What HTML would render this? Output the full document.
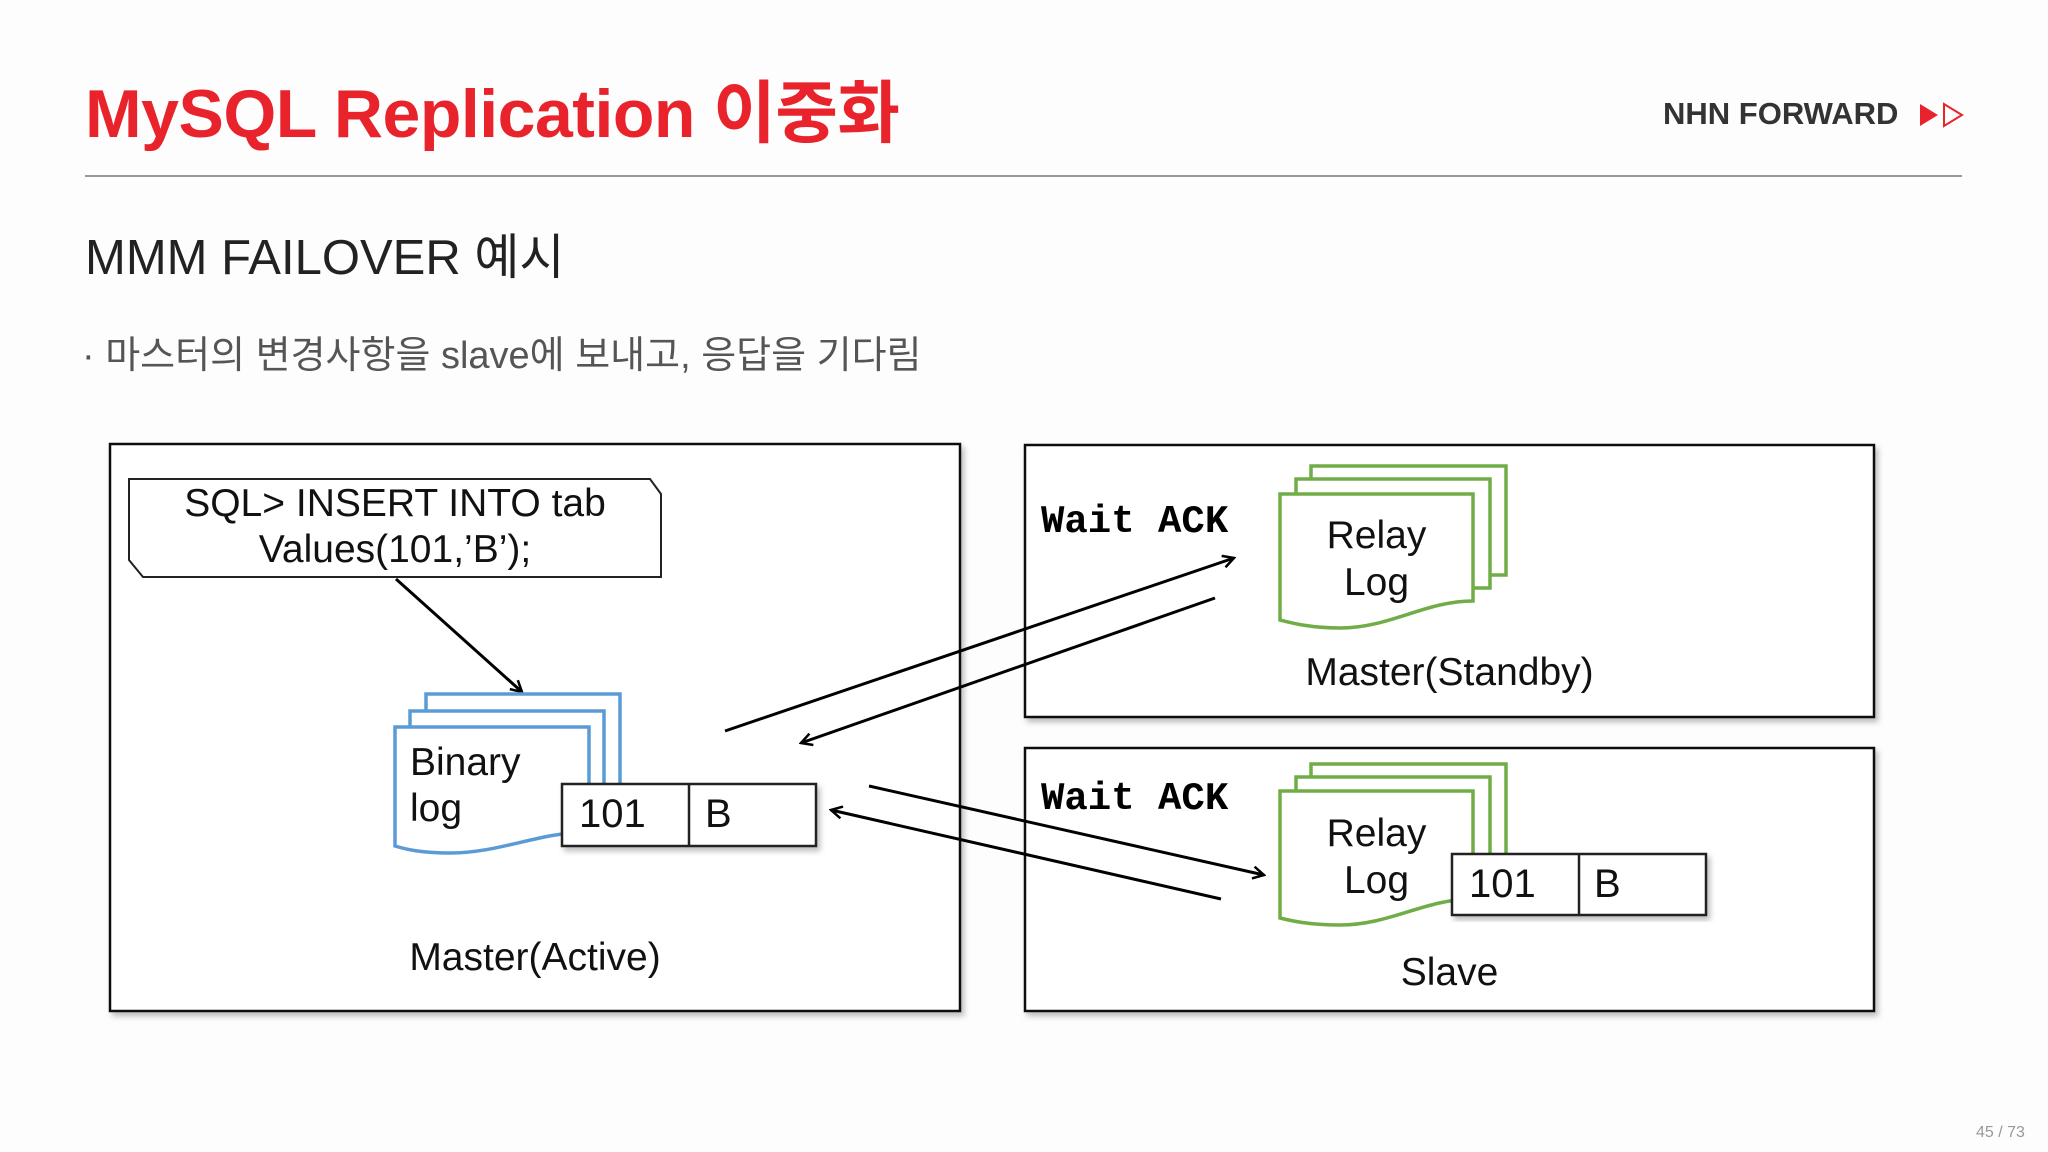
<!DOCTYPE html>
<html><head><meta charset="utf-8"><style>
html,body{margin:0;padding:0;background:#fdfdfd;}
body{width:2048px;height:1152px;overflow:hidden;position:relative;font-family:"Liberation Sans","Noto Sans CJK KR",sans-serif;}
.t{position:absolute;white-space:nowrap;}
</style></head><body>
<div class="t" style="left:85px;top:58px;font-size:68px;font-weight:bold;color:#e8232b;letter-spacing:-0.5px;">MySQL Replication 이중화</div>
<div class="t" style="left:1663px;top:96px;font-size:31px;font-weight:bold;color:#333;">NHN FORWARD</div>
<svg style="position:absolute;left:0;top:0" width="2048" height="1152">
<polygon points="1920,104 1920,126 1938,115" fill="#e8232b"/>
<polygon points="1944,104 1944,126 1962,115" fill="none" stroke="#e8232b" stroke-width="2"/>
<line x1="85" y1="176" x2="1962" y2="176" stroke="#999" stroke-width="2"/>
<defs><filter id="sh" x="-5%" y="-5%" width="110%" height="110%"><feDropShadow dx="3" dy="4" stdDeviation="3" flood-color="#000" flood-opacity="0.25"/></filter>
<marker id="ah" markerWidth="14" markerHeight="14" refX="12" refY="7" orient="auto" markerUnits="userSpaceOnUse"><path d="M1,1 L12,7 L1,13" fill="none" stroke="#000" stroke-width="2.5"/></marker></defs>
<g fill="#fff" stroke="#111" stroke-width="2.5" filter="url(#sh)">
<rect x="110" y="444" width="850" height="567"/>
<rect x="1025" y="445" width="849" height="272"/>
<rect x="1025" y="748" width="849" height="263"/>
</g>
<polygon points="129,479 650,479 661,494 661,577 143,577 129,560" fill="#fff" stroke="#222" stroke-width="2"/>
<line x1="396" y1="579" x2="522" y2="692" stroke="#000" stroke-width="3" marker-end="url(#ah)"/>
<g fill="#fff" stroke="#5b9bd5" stroke-width="3.5">
<rect x="426" y="694" width="194" height="130"/>
<rect x="410" y="711" width="194" height="115"/>
<path d="M395,727 H589 V832 C540,832 500,853 450,853 C420,853 405,849 395,846 Z"/>
</g>
<g fill="#fff" stroke="#70ad47" stroke-width="3.5">
<rect x="1311" y="466" width="195" height="109"/>
<rect x="1296" y="479" width="194" height="109"/>
<path d="M1280,494 H1473 V601 C1425,601 1390,628 1340,628 C1310,628 1292,623 1280,620 Z"/>
<rect x="1311" y="764" width="195" height="109"/>
<rect x="1296" y="777" width="194" height="109"/>
<path d="M1280,791 H1473 V899 C1425,899 1390,925 1340,925 C1310,925 1292,921 1280,918 Z"/>
</g>
<g fill="#fff" stroke="#222" stroke-width="2.5" filter="url(#sh)">
<rect x="562" y="784" width="254" height="62"/>
<rect x="1452" y="854" width="254" height="61"/>
</g>
<line x1="689" y1="784" x2="689" y2="846" stroke="#222" stroke-width="2.5"/>
<line x1="1579" y1="854" x2="1579" y2="915" stroke="#222" stroke-width="2.5"/>
<g stroke="#000" stroke-width="3" fill="none">
<line x1="725" y1="731" x2="1234" y2="558" marker-end="url(#ah)"/>
<line x1="1215" y1="598" x2="801" y2="743" marker-end="url(#ah)"/>
<line x1="869" y1="786" x2="1264" y2="875" marker-end="url(#ah)"/>
<line x1="1221" y1="899" x2="831" y2="810" marker-end="url(#ah)"/>
</g>
</svg>
<div class="t" style="left:85px;top:218px;font-size:49px;color:#222;">MMM FAILOVER 예시</div>
<div class="t" style="left:82px;top:324px;font-size:38px;color:#555;">· 마스터의 변경사항을 slave에 보내고, 응답을 기다림</div>
<div class="t" style="left:129px;width:532px;text-align:center;top:481px;font-size:39px;line-height:46px;color:#111;">SQL&gt; INSERT INTO tab<br>Values(101,’B’);</div>
<div class="t" style="left:410px;top:740px;font-size:39px;line-height:46px;color:#111;">Binary<br>log</div>
<div class="t" style="left:579px;top:792px;font-size:40px;color:#111;">101</div>
<div class="t" style="left:705px;top:792px;font-size:40px;color:#111;">B</div>
<div class="t" style="left:110px;width:850px;text-align:center;top:936px;font-size:39px;color:#111;">Master(Active)</div>
<div class="t" style="left:1041px;top:500px;font-size:39px;font-weight:bold;font-family:'Liberation Mono',monospace;color:#000;">Wait ACK</div>
<div class="t" style="left:1041px;top:777px;font-size:39px;font-weight:bold;font-family:'Liberation Mono',monospace;color:#000;">Wait ACK</div>
<div class="t" style="left:1280px;width:193px;text-align:center;top:512px;font-size:39px;line-height:47px;color:#111;">Relay<br>Log</div>
<div class="t" style="left:1280px;width:193px;text-align:center;top:810px;font-size:39px;line-height:47px;color:#111;">Relay<br>Log</div>
<div class="t" style="left:1469px;top:862px;font-size:40px;color:#111;">101</div>
<div class="t" style="left:1594px;top:862px;font-size:40px;color:#111;">B</div>
<div class="t" style="left:1025px;width:849px;text-align:center;top:651px;font-size:39px;color:#111;">Master(Standby)</div>
<div class="t" style="left:1025px;width:849px;text-align:center;top:951px;font-size:39px;color:#111;">Slave</div>
<div class="t" style="left:1976px;top:1124px;font-size:16px;color:#999;">45 / 73</div>
</body></html>
